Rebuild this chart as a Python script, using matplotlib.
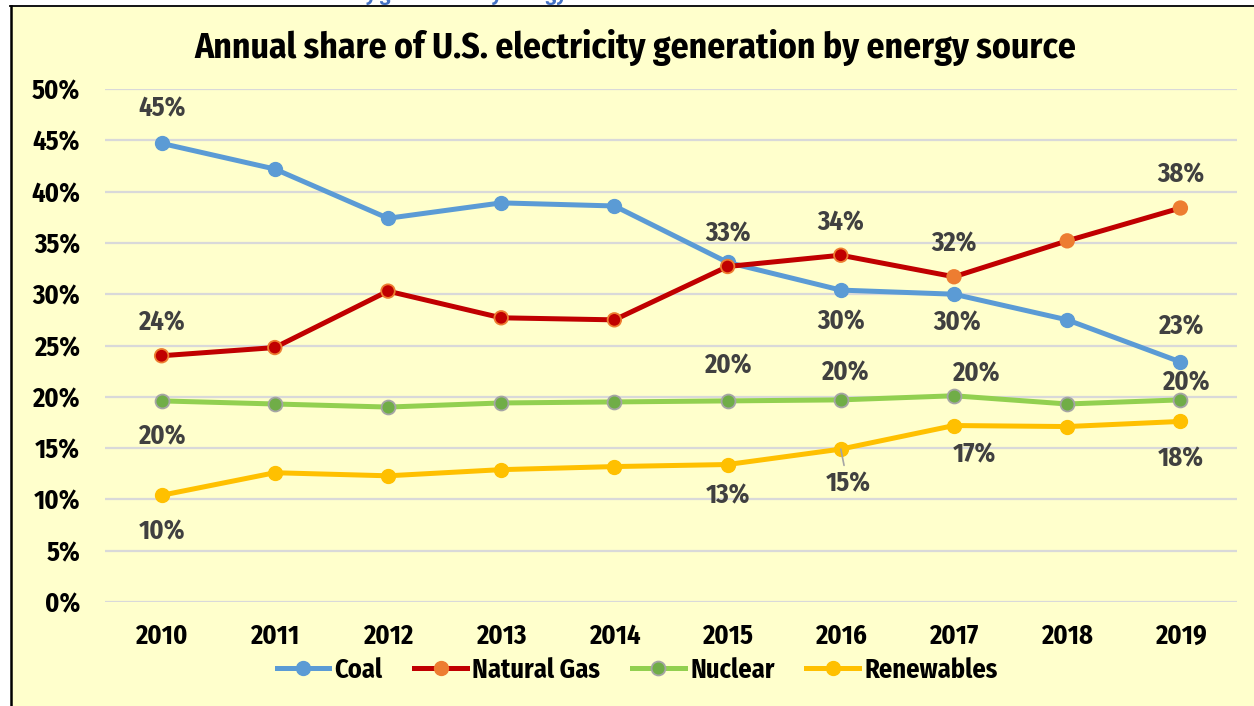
import matplotlib
matplotlib.use('Agg')
import matplotlib.pyplot as plt
from matplotlib.patches import Rectangle
from matplotlib.lines import Line2D

# ---------------- data ----------------
years = ['2010', '2011', '2012', '2013', '2014', '2015', '2016', '2017', '2018', '2019']
coal = [44.7, 42.2, 37.4, 38.9, 38.6, 33.1, 30.4, 30.0, 27.5, 23.4]
natural_gas = [24.0, 24.8, 30.3, 27.7, 27.5, 32.7, 33.8, 31.7, 35.2, 38.4]
nuclear = [19.6, 19.3, 19.0, 19.4, 19.5, 19.6, 19.7, 20.1, 19.3, 19.7]
renewables = [10.4, 12.6, 12.3, 12.9, 13.2, 13.4, 14.9, 17.2, 17.1, 17.6]
y_ticks = [0, 5, 10, 15, 20, 25, 30, 35, 40, 45, 50]
title = 'Annual share of U.S. electricity generation by energy source'

# ---------------- style ----------------
plt.rcParams['font.family'] = ['Fira Sans Condensed', 'DejaVu Sans']
plt.rcParams['font.weight'] = 'bold'

C_COAL = '#5B9BD5'
C_GAS = '#C00000'
C_GAS_M = '#ED7D31'
C_NUC = '#92D050'
C_NUC_M = '#70AD47'
C_NUC_E = '#A5A5A5'
C_REN = '#FFC000'
LBL = '#404040'
FS = 19

W, H = 1254, 706
fig = plt.figure(figsize=(W / 100, H / 100), dpi=100, facecolor='white')

# background panel and frame
fig.patches.append(Rectangle((11 / W, 0), 1 - 11 / W, 1 - 7 / H, transform=fig.transFigure,
                             facecolor='#FFFFCC', edgecolor='none', zorder=-5))
fig.add_artist(Line2D([10 / W, 1], [1 - 6 / H, 1 - 6 / H], color='black', lw=1.3,
                      transform=fig.transFigure, zorder=-4))
fig.add_artist(Line2D([11 / W, 11 / W], [0, 1 - 6 / H], color='black', lw=1.8,
                      transform=fig.transFigure, zorder=-4))
# cropped header text above the chart (only descenders visible)
fig.text(110 / W, 1.0, title, ha='left', va='baseline', fontsize=15, color='#4472C4',
         zorder=-3)

ax = fig.add_axes([105 / W, 1 - 602 / H, (1237 - 105) / W, (602 - 89) / H])
ax.set_facecolor('none')
x = list(range(len(years)))
ax.set_xlim(-0.5, len(years) - 0.5)
ax.set_ylim(0, 50)
ax.set_yticks(y_ticks)
ax.set_yticklabels([f'{t}%' for t in y_ticks], fontsize=FS, fontweight='bold', color='black')
ax.set_xticks(x)
ax.set_xticklabels(years, fontsize=FS, fontweight='bold', color='black')
ax.tick_params(axis='both', length=0)
ax.tick_params(axis='y', pad=18)
ax.tick_params(axis='x', pad=15)
ax.yaxis.grid(True, color='#D9D9D9', lw=1.6)
ax.set_axisbelow(True)
for s in ax.spines.values():
    s.set_visible(False)

# series
ax.plot(x, coal, color=C_COAL, lw=3.6, marker='o', ms=10, mfc=C_COAL, mec=C_COAL, zorder=3,
        solid_capstyle='round')
ax.plot(x, natural_gas, color=C_GAS, lw=3.6, zorder=4, solid_capstyle='round')
gas_face = [C_GAS] * 7 + [C_GAS_M] * 3
ax.scatter(x, natural_gas, s=95, c=gas_face, edgecolors=C_GAS_M, linewidths=1.3, zorder=4.5)
ax.plot(x, nuclear, color=C_NUC, lw=3.6, marker='o', ms=10, mfc=C_NUC_M, mec=C_NUC_E,
        mew=1.3, zorder=5, solid_capstyle='round')
ax.plot(x, renewables, color=C_REN, lw=3.6, marker='o', ms=10, mfc=C_REN, mec=C_REN, zorder=6,
        solid_capstyle='round')

# data labels: (series, index, dx px, dy px up)
series = {'coal': coal, 'gas': natural_gas, 'nuc': nuclear, 'ren': renewables}
labels = [
    ('coal', 0, 0, 35), ('coal', 5, 0, 29), ('coal', 6, 0, -32), ('coal', 7, 3, -29),
    ('coal', 9, 0, 35),
    ('gas', 0, 0, 33), ('gas', 6, 0, 32), ('gas', 7, 0, 33), ('gas', 9, 0, 33),
    ('nuc', 0, 0, -36), ('nuc', 5, 0, 35), ('nuc', 6, 4, 27), ('nuc', 7, 22, 22),
    ('nuc', 9, 5, 17),
    ('ren', 0, 0, -36), ('ren', 5, 0, -31), ('ren', 7, 20, -29), ('ren', 9, 0, -37),
]
for key, i, dx, dy in labels:
    v = series[key][i]
    ax.annotate(f'{round(v)}%', (x[i], v), xytext=(dx, dy), textcoords='offset pixels',
                ha='center', va='center', fontsize=FS, fontweight='bold', color=LBL, zorder=7)
# label with leader line
ax.annotate(f'{round(renewables[6])}%', (x[6], renewables[6]), xytext=(7, -35),
            textcoords='offset pixels', ha='center', va='center', fontsize=FS,
            fontweight='bold', color=LBL, zorder=7,
            arrowprops=dict(arrowstyle='-', color=C_NUC_E, lw=1.2, shrinkA=2, shrinkB=0))

# title
fig.text(635 / W, 1 - 48 / H, title, ha='center', va='center', fontsize=25.6,
         fontweight='bold', color='black')

# legend
handles = [
    Line2D([], [], color=C_COAL, lw=3.6, marker='o', ms=10, mfc=C_COAL, mec=C_COAL),
    Line2D([], [], color=C_GAS, lw=3.6, marker='o', ms=10, mfc=C_GAS_M, mec=C_GAS_M),
    Line2D([], [], color=C_NUC, lw=3.6, marker='o', ms=10, mfc=C_NUC_M, mec=C_NUC_E, mew=1.3),
    Line2D([], [], color=C_REN, lw=3.6, marker='o', ms=10, mfc=C_REN, mec=C_REN),
]
fig.legend(handles, ['Coal', 'Natural Gas', 'Nuclear', 'Renewables'], loc='center',
           bbox_to_anchor=(637 / W, 1 - 670 / H), ncol=4, frameon=False,
           prop={'size': FS, 'weight': 'bold'}, handlelength=2.0, handletextpad=0.2,
           columnspacing=1.2, labelcolor='black')

fig.savefig('out.png', dpi=100, facecolor='white')
